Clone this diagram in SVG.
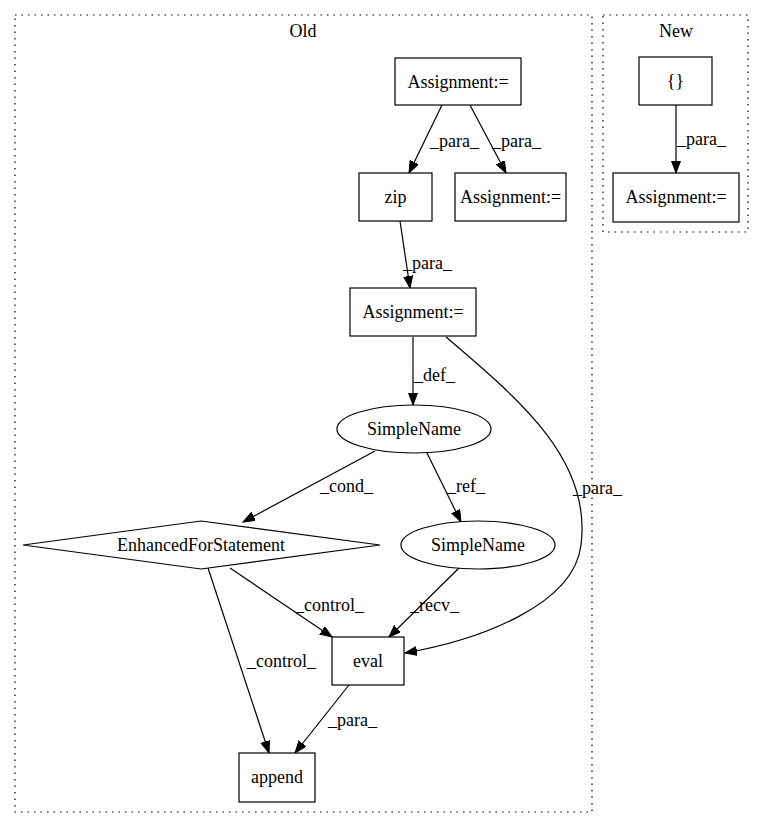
<svg xmlns="http://www.w3.org/2000/svg" width="765" height="828" viewBox="0 0 765 828">
<style>
text{font-family:"Liberation Serif","Times New Roman",serif;font-size:18px;fill:#000}
.n{fill:#fff;stroke:#000;stroke-width:1.2}
.c{fill:none;stroke:#000;stroke-width:1.2;stroke-dasharray:1.5 5}
.e{fill:none;stroke:#000;stroke-width:1.2;marker-end:url(#ah)}
.m{text-anchor:middle}
</style>
<defs>
<marker id="ah" markerUnits="userSpaceOnUse" markerWidth="13" markerHeight="10" refX="12" refY="4.5" orient="auto">
<path d="M0,0 L12,4.5 L0,9 z" fill="#000" stroke="#000"/>
</marker>
</defs>
<rect width="765" height="828" fill="#fff"/>
<g id="cluster_old">
<rect class="c" x="15" y="15" width="577" height="797"/>
<text class="m" x="303" y="37">Old</text>
</g>
<g id="cluster_new">
<rect class="c" x="603" y="15" width="145" height="217"/>
<text class="m" x="676" y="37">New</text>
</g>
<g id="edges">
<path class="e" d="M442,105 L409,173"/>
<text x="430" y="147">_para_</text>
<path class="e" d="M470,105 L506,173"/>
<text x="492" y="147">_para_</text>
<path class="e" d="M400,221 L410,288"/>
<text x="403" y="269">_para_</text>
<path class="e" d="M413,337 L413,405"/>
<text x="414" y="381">_def_</text>
<path class="e" d="M446,337 C520,400 592,460 581,545 C574,605 480,640 405,653"/>
<text x="573" y="494">_para_</text>
<path class="e" d="M375,451 L243,522"/>
<text x="320" y="492">_cond_</text>
<path class="e" d="M427,453 L461,522"/>
<text x="447" y="492">_ref_</text>
<path class="e" d="M230,568 L332,637"/>
<text x="295" y="611">_control_</text>
<path class="e" d="M460,567 L389,637"/>
<text x="410" y="611">_recv_</text>
<path class="e" d="M208,568 L269,753"/>
<text x="247" y="667">_control_</text>
<path class="e" d="M349,685 L295,753"/>
<text x="328" y="726">_para_</text>
<path class="e" d="M676,105 L676,173"/>
<text x="677" y="145">_para_</text>
</g>
<g id="assign_top"><rect class="n" x="395" y="58" width="126" height="47"/><text class="m" x="458" y="88">Assignment:=</text></g>
<g id="zip"><rect class="n" x="359" y="173" width="73" height="48"/><text class="m" x="395.5" y="203">zip</text></g>
<g id="assign_right"><rect class="n" x="455" y="173" width="111" height="48"/><text class="m" x="510.5" y="203">Assignment:=</text></g>
<g id="assign_mid"><rect class="n" x="350" y="288" width="126" height="48"/><text class="m" x="413" y="318">Assignment:=</text></g>
<g id="simplename1"><ellipse class="n" cx="414" cy="429" rx="77" ry="24"/><text class="m" x="414" y="435">SimpleName</text></g>
<g id="enhancedfor"><polygon class="n" points="23,545 201,521 380,545 201,569"/><text class="m" x="201" y="551">EnhancedForStatement</text></g>
<g id="simplename2"><ellipse class="n" cx="478" cy="545" rx="77" ry="24"/><text class="m" x="478" y="551">SimpleName</text></g>
<g id="eval"><rect class="n" x="332" y="637" width="72" height="48"/><text class="m" x="368" y="667">eval</text></g>
<g id="append"><rect class="n" x="239" y="753" width="76" height="49"/><text class="m" x="277" y="783">append</text></g>
<g id="braces"><rect class="n" x="639" y="57" width="73" height="48"/><text class="m" x="675.5" y="87">{}</text></g>
<g id="assign_new"><rect class="n" x="613" y="173" width="126" height="49"/><text class="m" x="676" y="203">Assignment:=</text></g>
</svg>
